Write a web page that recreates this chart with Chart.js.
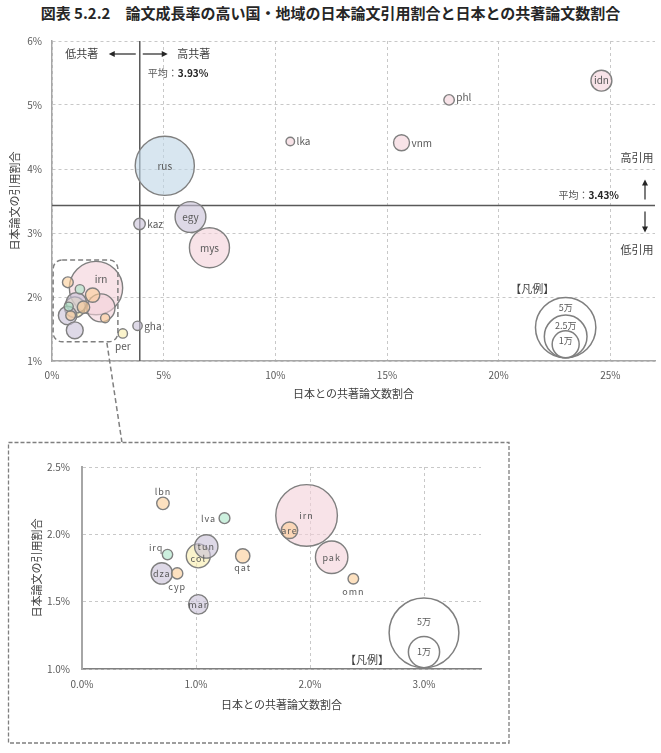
<!DOCTYPE html>
<html lang="ja">
<head>
<meta charset="utf-8">
<script src="https://cdn.jsdelivr.net/npm/chart.js@4.4.1/dist/chart.umd.min.js"></script>
<style>
  html, body { margin: 0; padding: 0; background: #fff; }
  body { width: 661px; height: 753px; position: relative; overflow: hidden; font-family: "Noto Sans CJK JP", sans-serif; }
  #title { position: absolute; left: 0; top: 2px; width: 661px; text-align: center; font-size: 15px; font-weight: bold; color: #262626; }
  #mainChart { position: absolute; left: 0; top: 25px; }
  #zoomChart { position: absolute; left: 0; top: 440px; }
</style>
</head>
<body>
<div id="title">図表 5.2.2　論文成長率の高い国・地域の日本論文引用割合と日本との共著論文数割合</div>
<canvas id="mainChart" width="661" height="418"></canvas>
<canvas id="zoomChart" width="520" height="313"></canvas>
<script>
// ---- data ----
var codes     = ['rus', 'irn', 'mys', 'egy', 'pak', 'idn', 'col', 'tun', 'dza', 'mar', 'vnm', 'are', 'qat', 'kaz', 'lbn', 'phl', 'cyp', 'lva', 'gha', 'per', 'omn', 'irq', 'lka'];
var coShare   = [5.05, 1.97, 7.05, 6.2, 2.19, 24.6, 1.02, 1.09, 0.70, 1.02, 15.65, 1.82, 1.41, 3.92, 0.71, 17.78, 0.835, 1.25, 3.83, 3.17, 2.38, 0.75, 10.67]; // 日本との共著論文数割合 (%)
var citeShare = [4.05, 2.14, 2.77, 3.25, 1.83, 5.38, 1.84, 1.91, 1.71, 1.48, 4.41, 2.03, 1.84, 3.14, 2.23, 5.08, 1.71, 2.12, 1.55, 1.43, 1.67, 1.85, 4.43]; // 日本論文の引用割合 (%)
var papers    = [48000, 39000, 22000, 13000, 10800, 6000, 5900, 5600, 4700, 3900, 3500, 2800, 2100, 1800, 1600, 1500, 1300, 1200, 1200, 1200, 1150, 1100, 1000];
var region    = ['eur', 'asia', 'asia', 'afr', 'asia', 'asia', 'latam', 'afr', 'afr', 'afr', 'asia', 'me', 'me', 'afr', 'me', 'asia', 'me', 'bal', 'afr', 'latam', 'me', 'bal', 'asia'];
var insetCodes = ['irn', 'pak', 'col', 'tun', 'dza', 'mar', 'are', 'qat', 'lbn', 'cyp', 'lva', 'omn', 'irq'];
var meanCoShare = 3.93;
var meanCite = 3.43;
var legendSizes = [50000, 25000, 10000];
var insetLegendSizes = [50000, 10000];

// ---- styles ----
var FONT = '"Noto Sans CJK JP", "Noto Sans", sans-serif';
var regionColors = {
  asia: 'rgba(244,208,216,0.6)',
  eur: 'rgba(190,214,230,0.6)',
  afr: 'rgba(200,192,215,0.6)',
  me: 'rgba(252,205,150,0.6)',
  bal: 'rgba(170,230,200,0.6)',
  latam: 'rgba(248,236,170,0.6)'
};
var mainLabels = { rus: ['c'], irn: ['c', 5, -9], mys: ['c'], egy: ['c'], idn: ['c'], vnm: ['r'], phl: ['r', 0, -3], lka: ['r'], kaz: ['r'], gha: ['r'], per: ['b'] };
var insetLabels = { irn: ['c'], pak: ['c'], col: ['c', 0, 3], tun: ['c'], dza: ['c'], mar: ['c'], are: ['c'], qat: ['b', 0, -3], lbn: ['t'], cyp: ['b'], lva: ['l'], omn: ['b'], irq: ['tl'] };

function makePoints(list, k) {
  var idx = [];
  for (var i = 0; i < codes.length; i++) {
    if (!list || list.indexOf(codes[i]) >= 0) idx.push(i);
  }
  idx.sort(function (a, b) { return papers[b] - papers[a]; });
  return {
    data: idx.map(function (i) { return { x: coShare[i], y: citeShare[i], r: k * Math.sqrt(papers[i] / 10000), code: codes[i] }; }),
    colors: idx.map(function (i) { return regionColors[region[i]]; })
  };
}

function drawLabels(chart, place, font, spacing) {
  var ctx = chart.ctx;
  var ds = chart.data.datasets[0].data;
  ctx.save();
  ctx.fillStyle = '#595959';
  ctx.font = font;
  ctx.letterSpacing = spacing;
  ctx.textBaseline = 'middle';
  chart.getDatasetMeta(0).data.forEach(function (el, i) {
    var p = place[ds[i].code];
    if (!p) return;
    var r = el.options.radius, x = el.x, y = el.y;
    ctx.textAlign = 'center';
    if (p[0] == 'r') { ctx.textAlign = 'left'; x += r + 2; }
    if (p[0] == 'l') { ctx.textAlign = 'right'; x -= r + 3; }
    if (p[0] == 'b') { y += r + 8; }
    if (p[0] == 't') { y -= r + 6; }
    if (p[0] == 'tl') { ctx.textAlign = 'right'; x -= r - 1; y -= r + 2; }
    ctx.fillText(ds[i].code, x + (p[1] || 0), y + (p[2] || 0));
  });
  ctx.restore();
}

function arrow(ctx, x1, y1, x2, y2) {
  var a = Math.atan2(y2 - y1, x2 - x1), h = 6, w = 3;
  ctx.beginPath();
  ctx.moveTo(x1, y1);
  ctx.lineTo(x2 - Math.cos(a) * h * 0.8, y2 - Math.sin(a) * h * 0.8);
  ctx.stroke();
  ctx.beginPath();
  ctx.moveTo(x2, y2);
  ctx.lineTo(x2 - h * Math.cos(a) + w * Math.sin(a), y2 - h * Math.sin(a) - w * Math.cos(a));
  ctx.lineTo(x2 - h * Math.cos(a) - w * Math.sin(a), y2 - h * Math.sin(a) + w * Math.cos(a));
  ctx.closePath();
  ctx.fill();
}

function drawSizeLegend(chart, sizes, k, xv, yv, textMax, capX, capY) {
  var ctx = chart.ctx;
  var cx = chart.scales.x.getPixelForValue(xv);
  var by = chart.scales.y.getPixelForValue(yv);
  ctx.save();
  ctx.strokeStyle = '#7f7f7f';
  ctx.lineWidth = 1.5;
  ctx.fillStyle = '#fff';
  sizes.forEach(function (s) {
    var r = k * Math.sqrt(s / 10000);
    ctx.beginPath();
    ctx.arc(cx, by - r, r, 0, Math.PI * 2);
    ctx.fill();
    ctx.stroke();
  });
  ctx.fillStyle = '#595959';
  ctx.font = '9px ' + FONT;
  ctx.textAlign = 'center';
  ctx.textBaseline = 'middle';
  sizes.forEach(function (s) {
    var r = k * Math.sqrt(s / 10000);
    ctx.fillText((s / 10000) + '万', cx, by - 2 * r + Math.min(r, textMax));
  });
  ctx.fillStyle = '#404040';
  ctx.font = '11px ' + FONT;
  ctx.fillText('【凡例】', chart.scales.x.getPixelForValue(capX), chart.scales.y.getPixelForValue(capY));
  ctx.restore();
}

function meanText(ctx, label, value, x, y, align) {
  ctx.font = '10px ' + FONT;
  var w1 = ctx.measureText(label).width;
  ctx.font = 'bold 10px ' + FONT;
  var w2 = ctx.measureText(value).width;
  var left = align == 'right' ? x - w1 - w2 : x;
  ctx.textAlign = 'left';
  ctx.font = '10px ' + FONT;
  ctx.fillStyle = '#595959';
  ctx.fillText(label, left, y);
  ctx.font = 'bold 10px ' + FONT;
  ctx.fillStyle = '#262626';
  ctx.fillText(value, left + w1, y);
}

var mainPlugin = {
  id: 'mainDecor',
  beforeDatasetsDraw: function (chart) {
    var ctx = chart.ctx, ca = chart.chartArea;
    var mx = chart.scales.x.getPixelForValue(meanCoShare);
    var my = chart.scales.y.getPixelForValue(meanCite);
    ctx.save();
    ctx.strokeStyle = '#595959';
    ctx.lineWidth = 1.5;
    ctx.beginPath();
    ctx.moveTo(mx, ca.top); ctx.lineTo(mx, ca.bottom);
    ctx.moveTo(ca.left, my); ctx.lineTo(ca.right, my);
    ctx.stroke();
    ctx.restore();
  },
  afterDatasetsDraw: function (chart) {
    var ctx = chart.ctx, ca = chart.chartArea;
    var xs = chart.scales.x, ys = chart.scales.y;
    var mx = xs.getPixelForValue(meanCoShare);
    var my = ys.getPixelForValue(meanCite);

    drawLabels(chart, mainLabels, '10px ' + FONT, '0px');

    ctx.save();
    ctx.textBaseline = 'middle';
    ctx.textAlign = 'center';
    ctx.fillStyle = '#404040';
    ctx.font = '11px ' + FONT;
    ctx.fillText('低共著', mx - 58, ca.top + 13);
    ctx.fillText('高共著', mx + 54, ca.top + 13);
    ctx.fillText('高引用', ca.right - 18, my - 48);
    ctx.fillText('低引用', ca.right - 18, my + 44);
    ctx.strokeStyle = '#262626';
    ctx.fillStyle = '#262626';
    ctx.lineWidth = 1.2;
    arrow(ctx, mx - 4, ca.top + 13, mx - 31, ca.top + 13);
    arrow(ctx, mx + 3, ca.top + 13, mx + 28, ca.top + 13);
    arrow(ctx, ca.right - 10, my - 6, ca.right - 10, my - 26);
    arrow(ctx, ca.right - 10, my + 6, ca.right - 10, my + 27);
    meanText(ctx, '平均：', meanCoShare.toFixed(2) + '%', mx + 8, ca.top + 32, 'left');
    meanText(ctx, '平均：', meanCite.toFixed(2) + '%', ca.right - 36, my - 10, 'right');

    // box round the crowded corner, and the line down to the enlarged view
    var bx1 = xs.getPixelForValue(0.05), bx2 = xs.getPixelForValue(2.95);
    var by1 = ys.getPixelForValue(2.58), by2 = ys.getPixelForValue(1.30);
    ctx.strokeStyle = '#7f7f7f';
    ctx.lineWidth = 1.5;
    ctx.setLineDash([5, 3]);
    ctx.beginPath();
    ctx.roundRect(bx1, by1, bx2 - bx1, by2 - by1, 9);
    ctx.stroke();
    ctx.beginPath();
    ctx.moveTo(bx2 - 11, by2 + 1);
    ctx.lineTo(bx2 + 4, chart.height - 1);
    ctx.stroke();
    ctx.restore();

    drawSizeLegend(chart, legendSizes, 13.5, 23, 1.05, 10, 21.5, 2.135);
  }
};

var zoomPlugin = {
  id: 'zoomDecor',
  afterDatasetsDraw: function (chart) {
    drawLabels(chart, insetLabels, '9px ' + FONT, '1px');
    drawSizeLegend(chart, insetLegendSizes, 15.6, 3.0, 1.01, 24, 2.5, 1.066);
  },
  afterDraw: function (chart) {
    var ctx = chart.ctx;
    ctx.save();
    ctx.strokeStyle = '#7f7f7f';
    ctx.lineWidth = 1.3;
    ctx.setLineDash([4, 2]);
    ctx.strokeRect(8.5, 2.5, 500.5, 300.5);
    ctx.restore();
  }
};

function axisTicks(fmt) {
  return { color: '#595959', font: { size: 10, family: FONT }, callback: fmt };
}

var mainPts = makePoints(null, 13.5);
var zoomPts = makePoints(insetCodes, 15.6);

var mainTicksX = axisTicks(function (v) { return v + '%'; });
mainTicksX.stepSize = 5; mainTicksX.includeBounds = false; mainTicksX.padding = 8;
var mainTicksY = axisTicks(function (v) { return v + '%'; });
mainTicksY.stepSize = 1; mainTicksY.padding = 10;

new Chart(document.getElementById('mainChart'), {
  type: 'bubble',
  data: {
    datasets: [{
      data: mainPts.data,
      backgroundColor: mainPts.colors,
      borderColor: '#7f7f7f',
      borderWidth: 1.4
    }]
  },
  options: {
    responsive: false,
    animation: false,
    events: [],
    layout: { autoPadding: false, padding: { left: 0, right: 6, top: 7, bottom: 0 } },
    plugins: { legend: { display: false }, tooltip: { enabled: false } },
    scales: {
      x: {
        type: 'linear', min: 0, max: 27,
        afterFit: function (s) { s.height = 82; },
        ticks: mainTicksX,
        grid: { color: '#c8c8c8', drawTicks: false },
        border: { color: '#a6a6a6', width: 1.5, dash: [3, 3] },
        title: { display: true, text: '日本との共著論文数割合', color: '#404040', font: { size: 11, family: FONT }, padding: { top: 0, bottom: 43 } }
      },
      y: {
        type: 'linear', min: 1, max: 6,
        afterFit: function (s) { s.width = 52; },
        ticks: mainTicksY,
        grid: { color: '#c8c8c8', drawTicks: false },
        border: { color: '#a6a6a6', width: 1.5, dash: [3, 3] },
        title: { display: true, text: '日本論文の引用割合', color: '#404040', font: { size: 11, family: FONT }, padding: { top: 8, bottom: 0 } }
      }
    }
  },
  plugins: [mainPlugin]
});

var zoomTicksX = axisTicks(function (v) { return v.toFixed(1) + '%'; });
zoomTicksX.stepSize = 1; zoomTicksX.includeBounds = false; zoomTicksX.padding = 9;
var zoomTicksY = axisTicks(function (v) { return v.toFixed(1) + '%'; });
zoomTicksY.stepSize = 0.5; zoomTicksY.padding = 12;

new Chart(document.getElementById('zoomChart'), {
  type: 'bubble',
  data: {
    datasets: [{
      data: zoomPts.data,
      backgroundColor: zoomPts.colors,
      borderColor: '#7f7f7f',
      borderWidth: 1.4
    }]
  },
  options: {
    responsive: false,
    animation: false,
    events: [],
    layout: { autoPadding: false, padding: { left: 0, right: 39, top: 27, bottom: 0 } },
    plugins: { legend: { display: false }, tooltip: { enabled: false } },
    scales: {
      x: {
        type: 'linear', min: 0, max: 3.5,
        afterFit: function (s) { s.height = 84; },
        ticks: zoomTicksX,
        grid: { color: '#c8c8c8', drawTicks: false },
        border: { color: '#808080', width: 1.5, dash: [3, 3] },
        title: { display: true, text: '日本との共著論文数割合', color: '#404040', font: { size: 11, family: FONT }, padding: { top: 0, bottom: 42 } }
      },
      y: {
        type: 'linear', min: 1, max: 2.5,
        afterFit: function (s) { s.width = 82; },
        ticks: zoomTicksY,
        grid: { color: '#c8c8c8', drawTicks: false },
        border: { color: '#a6a6a6', width: 2, dash: [3, 3] },
        title: { display: true, text: '日本論文の引用割合', color: '#404040', font: { size: 11, family: FONT }, padding: { top: 30, bottom: 0 } }
      }
    }
  },
  plugins: [zoomPlugin]
});
</script>
</body>
</html>
